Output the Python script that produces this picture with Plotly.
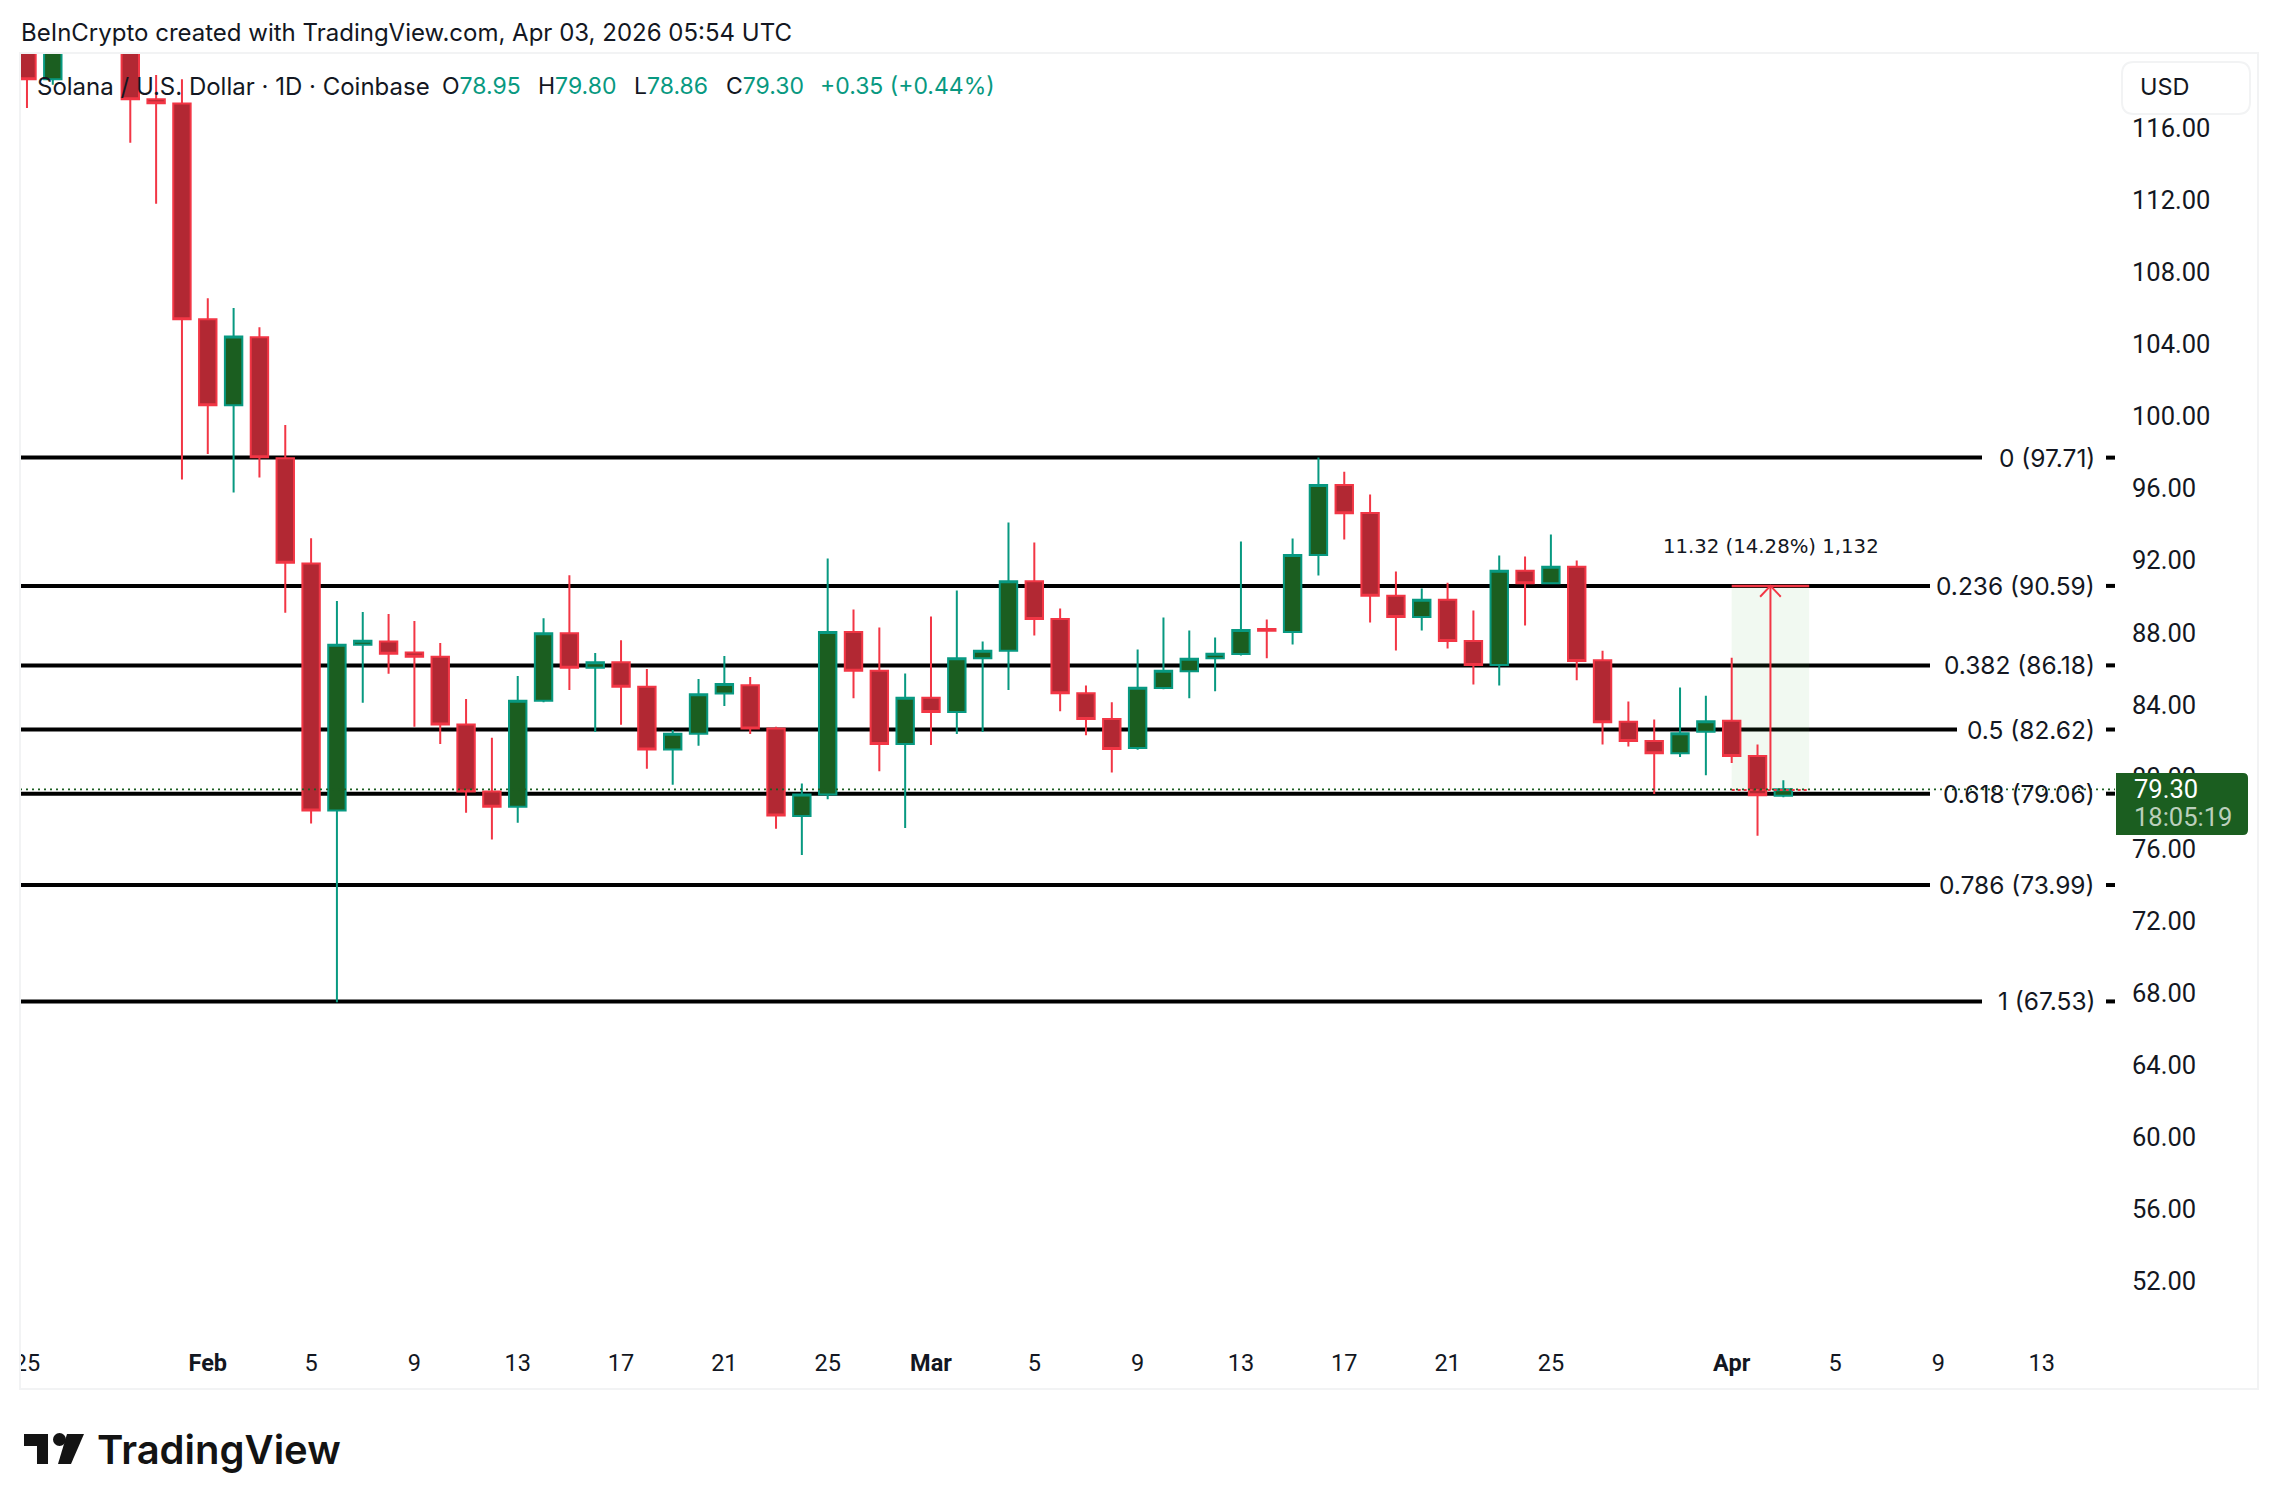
import pandas as pd
import plotly.graph_objects as go

# daily candles (the Jan 27/28 bars are above the visible range)
dates = ["2026-01-25", "2026-01-26"] + [d.strftime("%Y-%m-%d") for d in pd.date_range("2026-01-29", "2026-04-03")]
opens = [121.0, 118.71, 122.0, 117.6, 117.36, 105.39, 100.61, 104.39, 97.67, 91.83, 78.13, 87.33, 87.5, 86.9, 86.66, 82.9, 79.18, 78.33, 84.22, 87.96, 86.05, 86.35, 85.0, 81.51, 82.39, 84.62, 85.08, 82.67, 77.82, 79.01, 88.03, 85.88, 81.82, 84.38, 83.59, 86.58, 86.99, 90.85, 88.75, 84.64, 83.2, 81.59, 84.92, 85.86, 86.58, 86.81, 88.2, 88.03, 92.31, 96.19, 94.64, 90.04, 88.86, 89.82, 87.53, 86.2, 91.43, 90.74, 91.65, 86.46, 83.05, 81.98, 81.31, 82.49, 83.1, 81.15, 78.95]
closes = [118.71, 121.5, 117.6, 117.38, 105.39, 100.61, 104.43, 97.73, 91.87, 78.13, 87.33, 87.54, 86.83, 86.66, 82.9, 79.18, 78.33, 84.22, 87.96, 86.05, 86.35, 85.0, 81.51, 82.39, 84.58, 85.14, 82.67, 77.85, 79.01, 88.03, 85.88, 81.82, 84.38, 83.59, 86.58, 86.99, 90.85, 88.75, 84.64, 83.2, 81.54, 84.94, 85.88, 86.55, 86.82, 88.15, 88.1, 92.31, 96.19, 94.62, 90.04, 88.86, 89.82, 87.53, 86.2, 91.43, 90.74, 91.65, 86.42, 83.03, 81.98, 81.31, 82.42, 83.08, 81.15, 78.97, 79.3]
highs = [123.0, 122.0, 125.0, 118.95, 118.71, 106.55, 106.02, 104.94, 99.52, 93.24, 89.75, 89.14, 89.03, 88.64, 87.42, 84.31, 82.16, 85.59, 88.8, 91.18, 86.87, 87.58, 85.98, 82.6, 85.42, 86.7, 85.54, 82.77, 79.63, 92.11, 89.28, 88.28, 85.73, 88.89, 90.34, 87.51, 94.11, 93.0, 89.34, 85.07, 84.13, 87.06, 88.84, 88.12, 87.73, 93.05, 88.73, 93.22, 97.71, 96.93, 95.66, 91.39, 90.45, 90.76, 89.23, 92.28, 92.22, 93.44, 92.0, 86.99, 84.17, 83.18, 84.95, 84.5, 86.61, 81.79, 79.8]
lows = [117.12, 118.4, 115.19, 111.8, 96.49, 97.91, 95.78, 96.6, 89.1, 77.41, 67.49, 84.1, 85.71, 82.77, 81.82, 78.0, 76.51, 77.45, 84.14, 84.81, 82.48, 82.88, 80.44, 79.55, 81.72, 83.93, 82.37, 77.12, 75.66, 78.75, 84.35, 80.3, 77.16, 81.76, 82.37, 82.48, 84.81, 87.84, 83.63, 82.3, 80.24, 81.5, 84.85, 84.35, 84.74, 86.73, 86.57, 87.34, 91.17, 93.16, 88.56, 87.01, 88.12, 87.12, 85.12, 85.07, 88.4, 90.7, 85.35, 81.79, 81.68, 79.04, 81.09, 80.08, 80.76, 76.72, 78.86]

fib_levels = [97.71, 90.59, 86.18, 82.62, 79.06, 73.99, 67.53]
fib_labels = ["0 (97.71)", "0.236 (90.59)", "0.382 (86.18)", "0.5 (82.62)", "0.618 (79.06)", "0.786 (73.99)", "1 (67.53)"]
fib_gap_start = [1982, 1930, 1930, 1957, 1930, 1930, 1982]

y_ticks = [116, 112, 108, 104, 100, 96, 92, 88, 84, 80, 76, 72, 68, 64, 60, 56, 52]
x_tick_dates = ["2026-01-25", "2026-02-01", "2026-02-05", "2026-02-09", "2026-02-13", "2026-02-17", "2026-02-21", "2026-02-25", "2026-03-01", "2026-03-05", "2026-03-09", "2026-03-13", "2026-03-17", "2026-03-21", "2026-03-25", "2026-04-01", "2026-04-05", "2026-04-09", "2026-04-13"]
x_tick_text = ["25", "<b>Feb</b>", "5", "9", "13", "17", "21", "25", "<b>Mar</b>", "5", "9", "13", "17", "21", "25", "<b>Apr</b>", "5", "9", "13"]

last_price = 79.30
measure_low = 79.27
measure_high = 90.59

FONT = "Inter"
NUM_FONT = "Roboto"
INK = "#131722"
RED, RED_FILL = "#F23645", "#B22833"
GREEN, GREEN_FILL = "#089981", "#1B5E20"
FRAME = "#F2F3F4"

# pixel layout of the 2278x1510 picture, the page itself adds an 8px body margin
PAGE_MARGIN = 8
L, R, T, B = 20, 2115, 54, 1340
PRICE_TOP = 120.11
PRICE_BOTTOM = 48.74


def px(x):
    return (x - L) / (R - L)


def py(y):
    return 1 - (y - T) / (B - T)


def day_offset(days):
    return pd.Timestamp("2026-02-01") + pd.Timedelta(days=days)


def note(text, x, y, size=21, color=INK, anchor="left", weight=None, family=FONT):
    fig.add_annotation(text=text, x=px(x), y=py(y), xref="paper", yref="paper", showarrow=False,
                       xanchor=anchor, yanchor="middle", borderpad=0,
                       font=dict(family=family, size=size, color=color, weight=weight))


def box(x0, y0, x1, y1, **kw):
    fig.add_shape(type="rect", xref="paper", yref="paper", x0=px(x0), x1=px(x1), y0=py(y0), y1=py(y1), **kw)


def path(points, **kw):
    d = "M" + " L".join(f"{px(a):.5f},{py(b):.5f}" for a, b in points) + " Z"
    fig.add_shape(type="path", xref="paper", yref="paper", path=d, **kw)


fig = go.Figure()

fig.add_trace(go.Candlestick(
    x=dates, open=opens, high=highs, low=lows, close=closes, whiskerwidth=0,
    increasing=dict(line=dict(color=GREEN, width=2), fillcolor=GREEN_FILL),
    decreasing=dict(line=dict(color=RED, width=2), fillcolor=RED_FILL),
))

# fib levels, broken where their label sits
for level, gap in zip(fib_levels, fib_gap_start):
    line = dict(color="#000000", width=4)
    fig.add_shape(type="line", xref="paper", yref="y", x0=0, x1=px(gap), y0=level, y1=level, line=line, layer="below")
    fig.add_shape(type="line", xref="paper", yref="y", x0=px(2106), x1=px(2115), y0=level, y1=level, line=line, layer="below")

# measure tool
fig.add_shape(type="rect", xref="x", yref="y", x0="2026-04-01", x1="2026-04-04", y0=measure_low, y1=measure_high,
              fillcolor="rgba(76,175,80,0.08)", line_width=0, layer="below")
arrow_x = day_offset(60.5)
fig.add_trace(go.Scatter(x=[arrow_x, arrow_x], y=[measure_low, measure_high], mode="lines", line=dict(color=RED, width=2), hoverinfo="skip"))
fig.add_trace(go.Scatter(x=[day_offset(60.1), arrow_x, day_offset(60.9)], y=[measure_high - 0.6, measure_high, measure_high - 0.6],
                         mode="lines", line=dict(color=RED, width=2), hoverinfo="skip"))
fig.add_trace(go.Scatter(x=["2026-04-01", "2026-04-04"], y=[measure_high, measure_high], mode="lines", line=dict(color=RED, width=2.5), hoverinfo="skip"))
fig.add_trace(go.Scatter(x=["2026-04-01", "2026-04-04"], y=[measure_low, measure_low], mode="lines", line=dict(color=RED, width=2, dash="dot"), hoverinfo="skip"))

# last price line
fig.add_trace(go.Scatter(x=[day_offset(-7.27), day_offset(73.84)], y=[last_price, last_price], mode="lines",
                         line=dict(color=GREEN_FILL, width=1.6, dash="2px 4px"), hoverinfo="skip"))

fig.update_layout(
    width=2278 - 2 * PAGE_MARGIN, height=1510 - 2 * PAGE_MARGIN, showlegend=False, paper_bgcolor="white", plot_bgcolor="white",
    margin=dict(l=L - PAGE_MARGIN, r=2278 - PAGE_MARGIN - R, t=T - PAGE_MARGIN, b=1510 - PAGE_MARGIN - B, pad=0, autoexpand=False),
    font=dict(family=FONT, color=INK), boxgap=0.326, boxgroupgap=0, boxmode="overlay",
)
fig.update_xaxes(type="date", range=[day_offset(-7.27), day_offset(73.84)], rangeslider_visible=False, automargin=False,
                 showgrid=False, zeroline=False, showline=False, ticks="", tickmode="array",
                 tickvals=x_tick_dates, ticktext=x_tick_text, tickangle=0, ticklabelstandoff=6,
                 tickfont=dict(family=NUM_FONT, size=23.5, color=INK))
fig.update_yaxes(side="right", range=[PRICE_BOTTOM, PRICE_TOP], automargin=False, showgrid=False, zeroline=False, showline=False, ticks="",
                 tickmode="array", tickvals=y_ticks, ticktext=[f"{v:.2f}" for v in y_ticks], ticklabelstandoff=16,
                 tickfont=dict(family=NUM_FONT, size=25.5, color=INK))

# frame, and the strip that cuts the first date label
box(0, 1340, 19, 1389, fillcolor="white", line_width=0, layer="above")
for x0, y0, x1, y1 in [(19, 53, 2259, 53), (19, 1389, 2259, 1389), (20, 53, 20, 1389), (2258, 53, 2258, 1389)]:
    fig.add_shape(type="line", xref="paper", yref="paper", x0=px(x0), x1=px(x1), y0=py(y0), y1=py(y1),
                  line=dict(color=FRAME, width=2), layer="above")

# USD button
x0, x1, y0, y1, r = 2122, 2250, 62, 114, 12
fig.add_shape(type="path", xref="paper", yref="paper", layer="above", fillcolor="white", line=dict(color=FRAME, width=2),
              path=f"M{px(x0+r)},{py(y0)} L{px(x1-r)},{py(y0)} Q{px(x1)},{py(y0)} {px(x1)},{py(y0+r)} L{px(x1)},{py(y1-r)} "
                   f"Q{px(x1)},{py(y1)} {px(x1-r)},{py(y1)} L{px(x0+r)},{py(y1)} Q{px(x0)},{py(y1)} {px(x0)},{py(y1-r)} "
                   f"L{px(x0)},{py(y0+r)} Q{px(x0)},{py(y0)} {px(x0+r)},{py(y0)} Z")
note("USD", 2139, 87, size=23.5)

# last price tag
x0, x1, y0, y1, r = 2116, 2248, 773, 835, 5
fig.add_shape(type="path", xref="paper", yref="paper", layer="above", fillcolor=GREEN_FILL, line_width=0,
              path=f"M{px(x0)},{py(y0)} L{px(x1-r)},{py(y0)} Q{px(x1)},{py(y0)} {px(x1)},{py(y0+r)} L{px(x1)},{py(y1-r)} "
                   f"Q{px(x1)},{py(y1)} {px(x1-r)},{py(y1)} L{px(x0)},{py(y1)} Z")
note(f"{last_price:.2f}", 2133, 789, size=25.5, color="white", family=NUM_FONT)
note("18:05:19", 2133, 817, size=25.5, color="#BBCFBC", family=NUM_FONT)

# TradingView logo
path([(24, 1434), (48, 1434), (48, 1464), (37, 1464), (37, 1446), (24, 1446)], fillcolor="#131313", line_width=0, layer="above")
path([(67, 1434), (84, 1434), (71, 1464), (58, 1464)], fillcolor="#131313", line_width=0, layer="above")
fig.add_shape(type="circle", xref="paper", yref="paper", x0=px(53), x1=px(66), y0=py(1433), y1=py(1446),
              fillcolor="#131313", line_width=0, layer="above")
note("TradingView", 96, 1449, size=40, color="#131313", weight=600)

# header and legend texts
note("BeInCrypto created with TradingView.com, Apr 03, 2026 05:54 UTC", 20, 32, size=24)
note("Solana / U.S. Dollar · 1D · Coinbase", 36, 86, size=24)
for label, value, x in [("O", "78.95", 441), ("H", "79.80", 537), ("L", "78.86", 633), ("C", "79.30", 725)]:
    note(f"{label}<span style='color:{GREEN}'>{value}</span>", x, 86, size=23)
note("+0.35 (+0.44%)", 819, 86, size=23, color=GREEN)

note("11.32 (14.28%) 1,132", 1771, 546, size=19.7, anchor="center", family="DejaVu Sans")

for level, label in zip(fib_levels, fib_labels):
    fig.add_annotation(text=label, x=px(2097), y=level, xref="paper", yref="y", showarrow=False, xanchor="right",
                       yanchor="middle", font=dict(family=FONT, size=24.5, color=INK))

fig.write_html("out.html")
